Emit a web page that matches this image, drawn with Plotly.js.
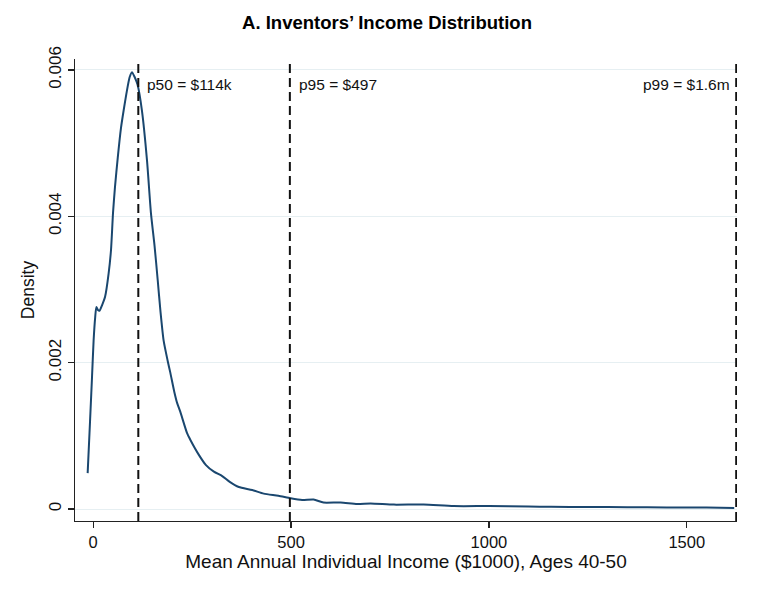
<!DOCTYPE html>
<html>
<head>
<meta charset="utf-8">
<script src="https://cdn.plot.ly/plotly-3.0.1.min.js"></script>
<style>html,body{margin:0;padding:0;background:#fff;}#chart{width:774px;height:590px;}</style>
</head>
<body>
<div id="chart"></div>
<script>
const incomeK = [-14, -8, -3, 1, 5, 8, 12, 16, 22, 30, 39, 45, 50, 55, 62, 70, 77, 84, 92, 98, 105, 112, 123, 136, 146, 155, 163, 170, 178, 188, 195, 205, 212, 220, 237, 246, 267, 285, 305, 326, 345, 368, 402, 431, 468, 499, 528, 557, 582, 625, 667, 701, 760, 835, 911, 1000, 1100, 1157, 1250, 1350, 1450, 1550, 1620];
const density = [0.00049, 0.0012, 0.0018, 0.0023, 0.00262, 0.00276, 0.00272, 0.00271, 0.00278, 0.0029, 0.00322, 0.00354, 0.00404, 0.0044, 0.0048, 0.0052, 0.00545, 0.00568, 0.0059, 0.00597, 0.0059, 0.0058, 0.00545, 0.00476, 0.00404, 0.0036, 0.00313, 0.0027, 0.0023, 0.00203, 0.00186, 0.0016, 0.00145, 0.00133, 0.00104, 0.00094, 0.00074, 0.0006, 0.00051, 0.00045, 0.00037, 0.0003, 0.00026, 0.00021, 0.00018, 0.000146, 0.000123, 0.00013, 0.000088, 0.00009, 0.000068, 0.000075, 0.00006, 0.000062, 0.00004, 0.00004, 0.000035, 0.00003, 0.000028, 0.000025, 0.000022, 0.00002, 0.000012];
const pctValues = [114, 497, 1625];
const pctLabels = ["p50 = $114k", "p95 = $497", "p99 = $1.6m"];
const xTicks = [0, 500, 1000, 1500];
const yTicks = [0, 0.002, 0.004, 0.006];
const yTickLabels = ["0", "0.002", "0.004", "0.006"];

const font = "Liberation Sans, Arial, Helvetica, sans-serif";

const shapes = pctValues.map(v => ({
  type: "line", xref: "x", yref: "paper", x0: v, x1: v, y0: 0, y1: 1,
  line: {color: "#111", width: 2, dash: "9px,5px"}
}));
const annotations = pctValues.map((v, i) => ({
  x: v, xref: "x", y: 0.944, yref: "paper", yanchor: "middle", text: pctLabels[i], showarrow: false,
  xanchor: i === 2 ? "right" : "left", xshift: i === 2 ? -4 : 7,
  font: {family: font, size: 15.5, color: "#111"}
}));

Plotly.newPlot("chart", [{
  x: incomeK, y: density, type: "scatter", mode: "lines",
  line: {color: "#1a476f", width: 2, shape: "spline", smoothing: 0.6},
  hoverinfo: "skip"
}], {
  width: 774, height: 590,
  margin: {l: 75, r: 37, t: 59, b: 69},
  paper_bgcolor: "#fff", plot_bgcolor: "#fff",
  showlegend: false,
  title: {text: "<b>A. Inventors’ Income Distribution</b>", x: 0.5, xanchor: "center", y: 0.962, yanchor: "middle",
          font: {family: font, size: 18.5, color: "#000"}},
  xaxis: {
    range: [-46, 1627], tickvals: xTicks, ticktext: xTicks.map(String),
    showgrid: false, zeroline: false, showline: true, linecolor: "#222", linewidth: 1.2,
    ticks: "outside", ticklen: 6, tickcolor: "#222", tickwidth: 1.2,
    tickfont: {family: font, size: 16.5, color: "#111"},
    title: {text: "Mean Annual Individual Income ($1000), Ages 40-50", standoff: 3,
            font: {family: font, size: 19, color: "#111"}}
  },
  yaxis: {
    range: [-0.000164, 0.00615], tickvals: yTicks, ticktext: yTickLabels, tickangle: -90,
    showgrid: true, gridcolor: "#e6eff2", gridwidth: 1, zeroline: false,
    showline: true, linecolor: "#222", linewidth: 1.2,
    ticks: "outside", ticklen: 6, tickcolor: "#222", tickwidth: 1.2,
    tickfont: {family: font, size: 17, color: "#111"},
    title: {text: "Density", standoff: 6, font: {family: font, size: 17.5, color: "#111"}}
  },
  shapes: shapes,
  annotations: annotations
}, {staticPlot: true});
</script>
</body>
</html>
